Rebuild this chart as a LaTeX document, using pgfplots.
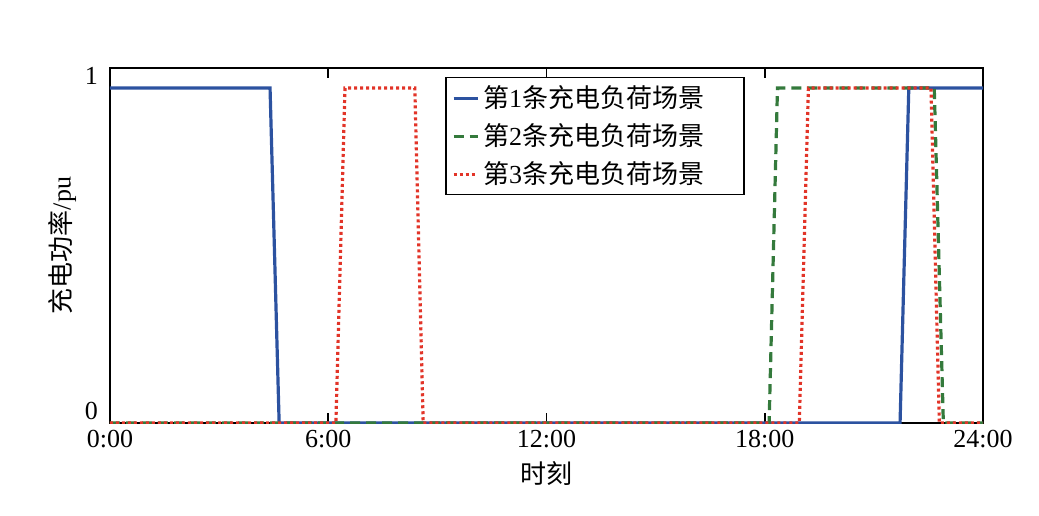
\documentclass[border=0pt]{standalone}
\usepackage{fontspec}
\setmainfont{Liberation Serif}
\newfontfamily\cjk{Noto Sans CJK SC}
\usepackage{pgfplots}
\pgfplotsset{compat=1.18}

\definecolor{cblue}{RGB}{44,82,160}
\definecolor{cgreen}{RGB}{52,122,60}
\definecolor{cred}{RGB}{226,52,40}

\begin{document}
\begin{tikzpicture}
\begin{axis}[
  name=main,
  scale only axis,
  width=436.5pt, height=177.5pt,
  xmin=0, xmax=24, ymin=0, ymax=1.06,
  xtick={0,6,12,18,24},
  xticklabels={0:00,6:00,12:00,18:00,24:00},
  ytick={0,1},
  yticklabels={0,1},
  tick align=inside,
  major tick length=5pt,
  axis line style={line width=0.8pt},
  every tick/.style={black, line width=0.8pt},
  tick label style={font=\fontsize{13}{15.6}\selectfont},
  label style={font=\fontsize{13}{15.6}\selectfont},
  yticklabel style={yshift=6pt, xshift=-2.5pt},
  ylabel style={yshift=-2.5pt},
  xlabel={{\cjk 时刻}},
  ylabel={{\cjk 充电功率}/pu},
  legend style={at={(0.384,0.975)}, anchor=north west, draw=black,
    line width=0.8pt, font=\fontsize{13}{15.6}\selectfont,
    row sep=2.5pt, inner xsep=3pt, inner ysep=2pt},
  legend cell align=left,
  legend image post style={line width=1.5pt},
  legend image code/.code={\draw[#1] (0pt,0pt) -- (12pt,0pt);},
]
\addplot[cblue, line width=1.6pt] coordinates {
  (0,1) (4.40,1) (4.65,0) (21.72,0) (21.96,1) (24,1)};
\addlegendentry{{\cjk 第}1{\cjk 条充电负荷场景}\hspace*{15pt}}
\addplot[cgreen, line width=1.6pt, dash pattern=on 5pt off 3pt] coordinates {
  (0,0) (18.12,0) (18.35,1) (22.66,1) (22.91,0) (24,0)};
\addlegendentry{{\cjk 第}2{\cjk 条充电负荷场景}\hspace*{15pt}}
\addplot[cred, line width=1.6pt, dash pattern=on 1.5pt off 1.5pt] coordinates {
  (0,0) (6.21,0) (6.46,1) (8.38,1) (8.61,0) (18.95,0) (19.20,1) (22.57,1) (22.80,0) (24,0)};
\addlegendentry{{\cjk 第}3{\cjk 条充电负荷场景}\hspace*{15pt}}
\end{axis}
\pgfresetboundingbox
\path[use as bounding box] ([xshift=-55pt,yshift=-46pt]main.south west) rectangle ([xshift=464.5pt,yshift=211.5pt]main.south west);
\end{tikzpicture}
\end{document}
